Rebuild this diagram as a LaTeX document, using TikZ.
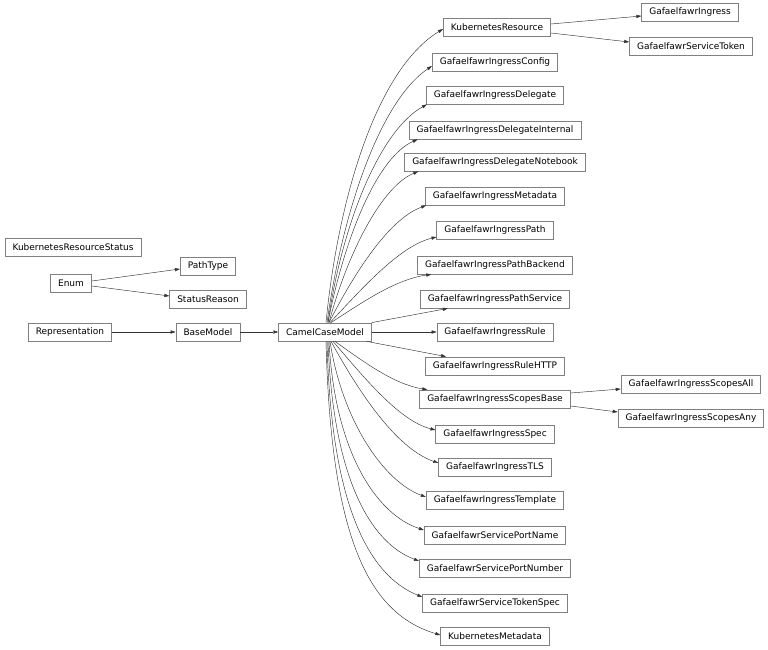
\documentclass[tikz,border=0pt]{standalone}
\usepackage{fontspec}
\newfontfamily\dejavu{DejaVu Sans}
\usetikzlibrary{arrows.meta}
\definecolor{boxgray}{RGB}{128,128,128}
\definecolor{edgegray}{RGB}{50,50,50}
\tikzset{
  box/.style={draw=boxgray, line width=0.8pt, fill=white, text=black,
    font=\dejavu\fontsize{9}{11}\selectfont, inner xsep=7.5pt, inner ysep=0pt,
    minimum height=18pt},
  inh/.style={draw=edgegray, line width=0.45pt, -{Triangle[length=5pt,width=3.2pt]}}
}
\begin{document}
\begin{tikzpicture}[x=1pt,y=-1pt]
\useasboundingbox (0,0) rectangle (768,650);
% left part
\node[box] (ks) at (73,247) {KubernetesResourceStatus};
\node[box] (enum) at (71,283) {Enum};
\node[box] (pt) at (208,266) {PathType};
\node[box] (sr) at (208,299) {StatusReason};
\node[box] (rep) at (70,332) {Representation};
\node[box] (bm) at (208,332) {BaseModel};
\node[box] (cc) at (325,332) {CamelCaseModel};
% middle column
\node[box] (kr) at (497,27) {KubernetesResource};
\node[box] (cfg) at (495,62) {GafaelfawrIngressConfig};
\node[box] (del) at (495,95) {GafaelfawrIngressDelegate};
\node[box] (deli) at (495,130) {GafaelfawrIngressDelegateInternal};
\node[box] (deln) at (495,162) {GafaelfawrIngressDelegateNotebook};
\node[box] (meta) at (495,196) {GafaelfawrIngressMetadata};
\node[box] (path) at (495,230) {GafaelfawrIngressPath};
\node[box] (pathb) at (495,265) {GafaelfawrIngressPathBackend};
\node[box] (paths) at (495,299) {GafaelfawrIngressPathService};
\node[box] (rule) at (495,332) {GafaelfawrIngressRule};
\node[box] (ruleh) at (495,366) {GafaelfawrIngressRuleHTTP};
\node[box] (sb) at (495,399) {GafaelfawrIngressScopesBase};
\node[box] (spec) at (495,434) {GafaelfawrIngressSpec};
\node[box] (tls) at (495,467) {GafaelfawrIngressTLS};
\node[box] (tmpl) at (495,500) {GafaelfawrIngressTemplate};
\node[box] (spn) at (495,535) {GafaelfawrServicePortName};
\node[box] (spnum) at (495,568) {GafaelfawrServicePortNumber};
\node[box] (sts) at (495,603) {GafaelfawrServiceTokenSpec};
\node[box] (kmeta) at (495,636) {KubernetesMetadata};
% right column
\node[box] (gi) at (690,12) {GafaelfawrIngress};
\node[box] (gst) at (691,46) {GafaelfawrServiceToken};
\node[box] (sall) at (691,384) {GafaelfawrIngressScopesAll};
\node[box] (sany) at (691,418) {GafaelfawrIngressScopesAny};
% straight edges
\draw[inh] ([yshift=2pt]enum.east) -- ([yshift=-3pt]pt.west);
\draw[inh] ([yshift=-3pt]enum.east) -- ([yshift=3pt]sr.west);
\draw[inh] (rep.east) -- (bm.west);
\draw[inh] (bm.east) -- (cc.west);
\draw[inh] ([yshift=3pt]kr.east) -- ([yshift=-4pt]gi.west);
\draw[inh] ([yshift=-6pt]kr.east) -- ([yshift=4pt]gst.west);
\draw[inh] ([yshift=6pt]sb.east) -- ([yshift=-5pt]sall.west);
\draw[inh] ([yshift=-7pt]sb.east) -- ([yshift=6pt]sany.west);
% fan from CamelCaseModel, upward
\draw[inh] ([xshift=1pt]cc.north) .. controls +(12,-123) and +(-67,41) .. ([yshift=-2pt]kr.west);
\draw[inh] ([xshift=2pt]cc.north) .. controls +(15,-108) and +(-53,36) .. ([yshift=-4pt]cfg.west);
\draw[inh] ([xshift=3pt]cc.north) .. controls +(14,-99) and +(-47,26) .. ([xshift=1pt]del.south west);
\draw[inh] ([xshift=3pt]cc.north) .. controls +(16,-83) and +(-41,18) .. ([xshift=9pt]deli.south west);
\draw[inh] ([xshift=4pt]cc.north) .. controls +(18,-68) and +(-37,15) .. ([xshift=14pt]deln.south west);
\draw[inh] ([xshift=4pt]cc.north) .. controls +(24,-47) and +(-38,14) .. ([xshift=1pt]meta.south west);
\draw[inh] ([xshift=5pt]cc.north) .. controls +(32,-34) and +(-37,9) .. ([yshift=-7pt]path.west);
\draw[inh] ([xshift=6pt]cc.north) .. controls +(31,-20) and +(-36,5) .. ([xshift=14pt]pathb.south west);
\draw[inh] (cc.north east) -- ([xshift=28pt]paths.south west);
\draw[inh] (cc.east) -- (rule.west);
\draw[inh] ([xshift=-5pt]cc.south east) -- ([xshift=21pt]ruleh.north west);
% fan from CamelCaseModel, downward
\draw[inh] ([xshift=10pt]cc.south) .. controls +(28,20) and +(-33,-5) .. ([xshift=8pt]sb.north west);
\draw[inh] ([xshift=8pt]cc.south) .. controls +(31,36) and +(-36,-9) .. ([yshift=4pt]spec.west);
\draw[inh] ([xshift=6pt]cc.south) .. controls +(27,49) and +(-43,-15) .. ([yshift=4pt]tls.west);
\draw[inh] ([xshift=5pt]cc.south) .. controls +(12,78) and +(-43,-16) .. ([yshift=3pt]tmpl.west);
\draw[inh] ([xshift=4pt]cc.south) .. controls +(6,113) and +(-46,-15) .. ([yshift=5pt]spn.west);
\draw[inh] ([xshift=3pt]cc.south) .. controls +(5,138) and +(-48,-18) .. ([yshift=7pt]spnum.west);
\draw[inh] ([xshift=2pt]cc.south) .. controls +(4,167) and +(-52,-21) .. ([yshift=6pt]sts.west);
\draw[inh] ([xshift=1pt]cc.south) .. controls +(5,201) and +(-70,-21) .. ([yshift=1pt]kmeta.west);
\end{tikzpicture}
\end{document}
